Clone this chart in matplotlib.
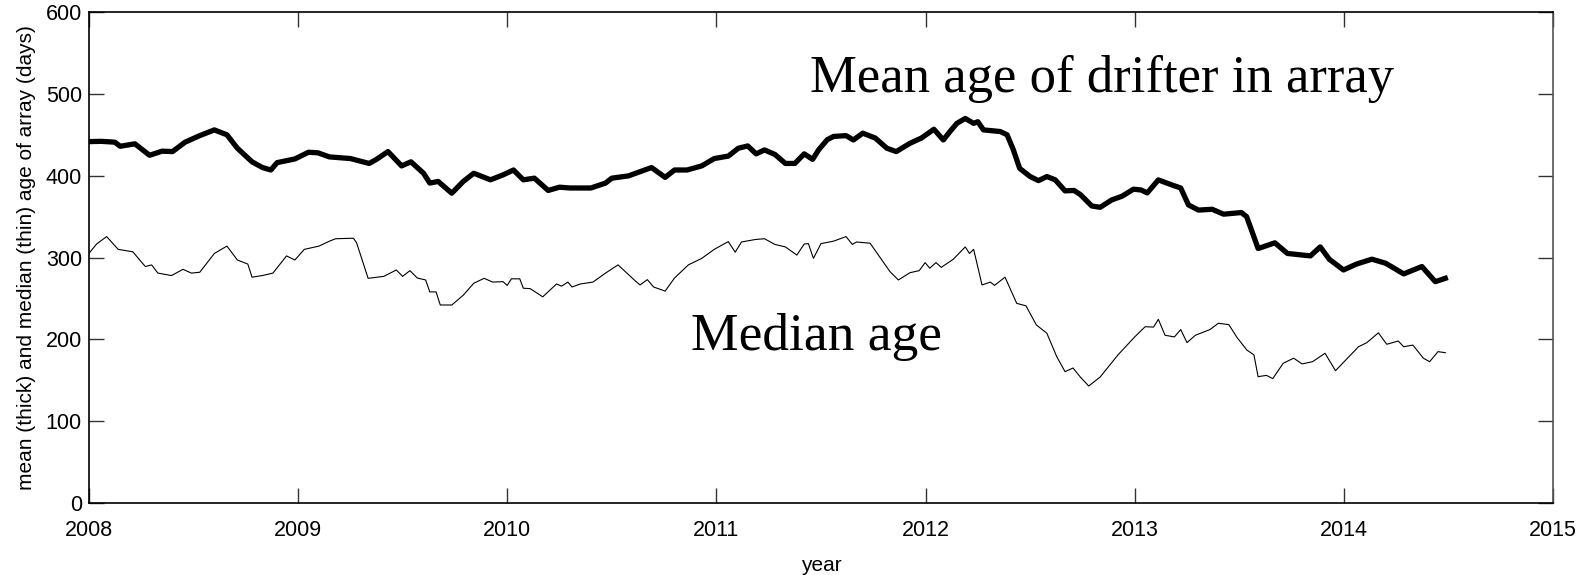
import numpy as np
import matplotlib
matplotlib.use("Agg")
import matplotlib.pyplot as plt

# mean age of drifters in the array (thick line)
mean_year = [2008.00, 2008.06, 2008.124, 2008.15, 2008.22, 2008.29, 2008.35, 2008.40, 2008.46, 2008.53,
             2008.60, 2008.66, 2008.71, 2008.78, 2008.83, 2008.87, 2008.90, 2008.985, 2009.05, 2009.095,
             2009.15, 2009.25, 2009.34, 2009.375, 2009.43, 2009.495, 2009.54, 2009.60, 2009.63, 2009.67,
             2009.735, 2009.79, 2009.84, 2009.92, 2009.98, 2010.03, 2010.077, 2010.13, 2010.196, 2010.25,
             2010.30, 2010.40, 2010.47, 2010.50, 2010.58, 2010.69, 2010.755, 2010.80, 2010.86, 2010.93,
             2010.99, 2011.057, 2011.105, 2011.15, 2011.19, 2011.23, 2011.28, 2011.33, 2011.375, 2011.42,
             2011.46, 2011.49, 2011.53, 2011.56, 2011.62, 2011.655, 2011.70, 2011.76, 2011.815, 2011.86,
             2011.926, 2011.98, 2012.04, 2012.085, 2012.12, 2012.15, 2012.19, 2012.23, 2012.25, 2012.277,
             2012.357, 2012.39, 2012.42, 2012.45, 2012.50, 2012.54, 2012.58, 2012.62, 2012.667, 2012.71,
             2012.74, 2012.795, 2012.835, 2012.89, 2012.94, 2012.994, 2013.03, 2013.06, 2013.113, 2013.177,
             2013.22, 2013.257, 2013.305, 2013.37, 2013.425, 2013.51, 2013.535, 2013.555, 2013.59, 2013.67,
             2013.73, 2013.84, 2013.887, 2013.93, 2013.998, 2014.06, 2014.134, 2014.20, 2014.286, 2014.373,
             2014.437, 2014.485]
mean_days = [441.7, 442, 441, 436, 439, 425, 430, 429.5, 441, 449,
             456, 450, 433.6, 417, 410, 407, 416, 420.5, 428.7, 428,
             423, 421, 415, 420, 429.5, 412, 417, 403, 391, 393,
             378.6, 393, 403, 395, 401, 407, 395, 397, 382, 386,
             385, 385, 391, 397, 399.8, 410, 398, 407, 407, 412,
             421, 424, 433.6, 436.4, 426.7, 431.5, 426, 415, 415, 426.7,
             420, 432, 444, 448, 449, 443.7, 452, 446, 433.6, 429.5,
             439.7, 446, 456.8, 443.7, 455, 464, 470, 464, 466, 456,
             454, 450, 431.5, 409, 399, 394, 399, 395, 381.5, 382,
             377, 363, 361.4, 370.4, 375, 383.5, 382.6, 379, 394.9, 388.8,
             385, 364.3, 358, 359, 353, 355, 350, 336, 311, 318,
             305, 302, 313, 298, 284.8, 292, 298, 293, 280, 289,
             270.5, 274.6]

# median age (thin line)
med_year = [2008.00, 2008.037, 2008.085, 2008.14, 2008.21, 2008.27, 2008.30, 2008.33, 2008.395, 2008.45,
            2008.49, 2008.53, 2008.60, 2008.66, 2008.71, 2008.76, 2008.78, 2008.83, 2008.88, 2008.945,
            2008.985, 2009.03, 2009.10, 2009.15, 2009.18, 2009.265, 2009.28, 2009.335, 2009.41, 2009.47,
            2009.50, 2009.535, 2009.57, 2009.61, 2009.63, 2009.66, 2009.68, 2009.735, 2009.79, 2009.84,
            2009.89, 2009.93, 2009.98, 2010.00, 2010.02, 2010.06, 2010.077, 2010.11, 2010.17, 2010.236,
            2010.26, 2010.29, 2010.31, 2010.35, 2010.41, 2010.47, 2010.53, 2010.59, 2010.61, 2010.635,
            2010.67, 2010.70, 2010.755, 2010.80, 2010.866, 2010.93, 2010.99, 2011.057, 2011.09, 2011.12,
            2011.185, 2011.23, 2011.28, 2011.33, 2011.385, 2011.42, 2011.44, 2011.464, 2011.50, 2011.56,
            2011.62, 2011.65, 2011.67, 2011.735, 2011.78, 2011.83, 2011.87, 2011.926, 2011.97, 2011.998,
            2012.02, 2012.05, 2012.075, 2012.133, 2012.19, 2012.21, 2012.23, 2012.27, 2012.31, 2012.33,
            2012.38, 2012.436, 2012.48, 2012.53, 2012.58, 2012.627, 2012.667, 2012.705, 2012.74, 2012.78,
            2012.835, 2012.92, 2013.00, 2013.05, 2013.09, 2013.113, 2013.145, 2013.19, 2013.22, 2013.25,
            2013.29, 2013.36, 2013.40, 2013.45, 2013.49, 2013.536, 2013.57, 2013.59, 2013.63, 2013.66,
            2013.71, 2013.76, 2013.80, 2013.85, 2013.91, 2013.96, 2014.01, 2014.07, 2014.11, 2014.165,
            2014.205, 2014.26, 2014.286, 2014.33, 2014.38, 2014.41, 2014.45, 2014.485]
med_days = [305, 316.6, 325.6, 310, 307, 289, 291, 281, 278, 285.6,
            281, 282, 305, 314, 297, 292, 276, 278, 281, 302,
            297, 310, 314, 320, 323, 323.6, 318, 274.6, 277, 284.8,
            277, 284, 275, 272.6, 258, 258, 242, 242, 254, 268.6,
            274.6, 270, 270.5, 266, 274, 274, 262.5, 262, 252, 267.7,
            265, 270, 264, 267.7, 270, 281, 291, 276.7, 272, 266.5,
            273, 264, 259, 275, 291, 299, 310, 319.5, 306.5, 319,
            322, 323, 316, 313, 303, 316.6, 317, 299, 317, 320,
            325.6, 316, 319, 317.5, 301, 282.8, 272.6, 281.5, 284, 293.8,
            287, 293.8, 288, 298, 313, 305, 310, 266.5, 270, 266,
            276, 244, 241, 217.6, 207.5, 179, 160.5, 165, 154, 143,
            154, 181, 203, 215.5, 215, 224.5, 205, 203, 212, 196,
            205, 212, 219.7, 218, 202, 187, 181, 154.4, 156, 152,
            170.8, 177, 170, 172.7, 183, 161.7, 175, 191, 196, 208,
            194, 198, 191, 193, 177, 172.7, 185, 183.7]

x_ticks = [2008, 2009, 2010, 2011, 2012, 2013, 2014, 2015]
y_ticks = [0, 100, 200, 300, 400, 500, 600]

plt.rcParams['font.family'] = ['Liberation Sans', 'DejaVu Sans']

fig = plt.figure(figsize=(15.87, 5.75), dpi=100)
ax = fig.add_axes([0.056, 0.1252, 0.9226, 0.8538])

ax.plot(mean_year, mean_days, color="black", lw=3.8, solid_joinstyle="round")
ax.plot(med_year, med_days, color="black", lw=0.8)

ax.set_xlim(2008, 2015)
ax.set_ylim(0, 600)
ax.set_xticks(x_ticks)
ax.set_yticks(y_ticks)
ax.tick_params(direction="in", length=11, width=1, top=True, right=True,
               labelsize=15.5, color="#333333")
ax.tick_params(axis="x", pad=12)
ax.tick_params(axis="y", pad=5)
for s in ax.spines.values():
    s.set_linewidth(1.2)
ax.spines["right"].set_color("#555555")

ax.set_xlabel("year", fontsize=15, labelpad=11)
ax.set_ylabel("mean (thick) and median (thin) age of array (days)", fontsize=15, labelpad=7)

ax.text(2011.448, 502, "Mean age of drifter in array", family="Liberation Serif",
        fontsize=38, va="baseline", ha="left")
ax.text(2010.88, 187, "Median age", family="Liberation Serif",
        fontsize=38.5, va="baseline", ha="left")

fig.savefig("out.png", dpi=100)
